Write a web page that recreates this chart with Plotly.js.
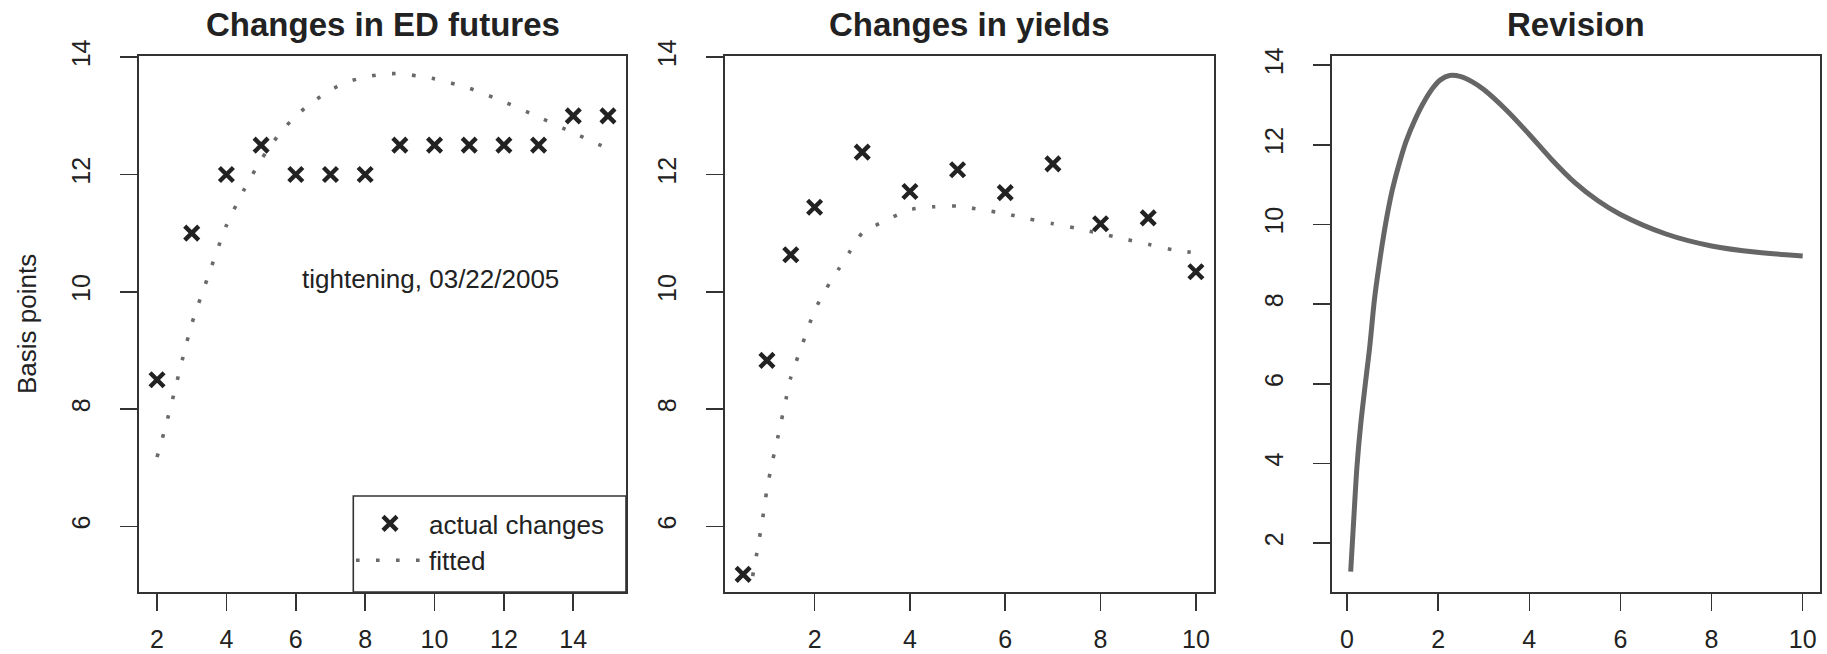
<!DOCTYPE html>
<html>
<head>
<meta charset="utf-8">
<script src="https://cdn.plot.ly/plotly-3.0.1.min.js"></script>
<style>
  html, body { margin: 0; padding: 0; background: #ffffff; }
  #chart { width: 1827px; height: 654px; }
</style>
</head>
<body>
<div id="chart"></div>
<script>
// ---------- Panel 1: Changes in ED futures ----------
const edX = [2, 3, 4, 5, 6, 7, 8, 9, 10, 11, 12, 13, 14, 15];
const edActual = [8.5, 11, 12, 12.5, 12, 12, 12, 12.5, 12.5, 12.5, 12.5, 12.5, 13, 13];
const edFitX = [2, 2.25, 2.5, 2.75, 3, 3.5, 4, 4.5, 5, 5.5, 6, 6.5, 7, 7.5, 8, 8.5, 9, 9.5, 10, 11, 12, 13, 14, 15];
const edFit = [7.18, 7.71, 8.29, 8.89, 9.45, 10.31, 11.13, 11.73, 12.25, 12.67, 13.0, 13.24, 13.44, 13.58, 13.66, 13.71, 13.72, 13.68, 13.63, 13.47, 13.24, 12.98, 12.71, 12.44];

// ---------- Panel 2: Changes in yields ----------
const ylX = [0.5, 1, 1.5, 2, 3, 4, 5, 6, 7, 8, 9, 10];
const ylActual = [5.18, 8.83, 10.63, 11.44, 12.38, 11.71, 12.08, 11.69, 12.18, 11.16, 11.26, 10.34];
const ylFitX = [0.7, 0.8, 0.9, 1.0, 1.1, 1.2, 1.3, 1.4, 1.5, 1.75, 2, 2.25, 2.5, 2.75, 3, 3.5, 4, 4.5, 5, 5.5, 6, 6.5, 7, 7.5, 8, 8.5, 9, 9.5, 10];
const ylFit = [5.15, 5.6, 6.08, 6.63, 7.05, 7.41, 7.79, 8.17, 8.54, 9.12, 9.68, 10.06, 10.38, 10.70, 11.0, 11.22, 11.40, 11.45, 11.46, 11.40, 11.33, 11.24, 11.16, 11.08, 10.99, 10.90, 10.81, 10.72, 10.66];

// ---------- Panel 3: Revision ----------
const revX = [0.08, 0.15, 0.22, 0.3, 0.41, 0.5, 0.6, 0.7, 0.8, 0.9, 1.0, 1.15, 1.3, 1.5, 1.7, 1.9, 2.05, 2.25, 2.5, 2.75, 3, 3.5, 4, 4.5, 5, 5.5, 6, 7, 8, 9, 10];
const revY = [1.28, 2.65, 3.95, 4.98, 6.08, 6.95, 8.1, 8.95, 9.7, 10.35, 10.9, 11.55, 12.1, 12.65, 13.1, 13.45, 13.63, 13.74, 13.71, 13.58, 13.39, 12.87, 12.26, 11.62, 11.05, 10.6, 10.25, 9.76, 9.46, 9.30, 9.21];

// ---------- Tick labels ----------
const edXTicks = [2, 4, 6, 8, 10, 12, 14];
const ylXTicks = [2, 4, 6, 8, 10];
const revXTicks = [0, 2, 4, 6, 8, 10];
const bpYTicks = [6, 8, 10, 12, 14];
const revYTicks = [2, 4, 6, 8, 10, 12, 14];

const titles = ["Changes in ED futures", "Changes in yields", "Revision"];
const legendNames = ["actual changes", "fitted"];
const yLabel = "Basis points";
const noteText = "tightening, 03/22/2005";

const FONT = "Liberation Sans, Arial, Helvetica, sans-serif";
const INK = "#222222";
const AX = "#333333";
const DOT = "#6a6a6a";
const W = 1827, H = 654;

const markerStyle = { symbol: "x-thin-open", size: 14, color: INK, line: { color: INK, width: 4.4 } };
const dotLine = { color: DOT, width: 3.6, dash: "3.6px,16.4px", shape: "spline", smoothing: 0.6 };

const traces = [
  { x: edX, y: edActual, xaxis: "x", yaxis: "y", type: "scatter", mode: "markers",
    name: legendNames[0], marker: markerStyle, showlegend: true },
  { x: edFitX, y: edFit, xaxis: "x", yaxis: "y", type: "scatter", mode: "lines",
    name: legendNames[1], line: dotLine, showlegend: true },
  { x: ylFitX, y: ylFit, xaxis: "x2", yaxis: "y2", type: "scatter", mode: "lines",
    line: dotLine, showlegend: false },
  { x: ylX, y: ylActual, xaxis: "x2", yaxis: "y2", type: "scatter", mode: "markers",
    marker: markerStyle, showlegend: false },
  { x: revX, y: revY, xaxis: "x3", yaxis: "y3", type: "scatter", mode: "lines",
    line: { color: "#666666", width: 5, shape: "spline", smoothing: 1 }, showlegend: false }
];

function px2fx(p) { return p / W; }
function py2fy(p) { return (H - p) / H; }

function axisBase(extra) {
  return Object.assign({
    showgrid: false, zeroline: false, showline: true, mirror: true,
    linecolor: AX, linewidth: 1.6,
    ticks: "outside", ticklen: 17, tickwidth: 1.6, tickcolor: AX,
    tickfont: { family: FONT, size: 25, color: INK },
    tickmode: "array", fixedrange: true
  }, extra);
}

const yDom = [py2fy(592), py2fy(56)];
const XSO = 7, YSO = 20;

const layout = {
  width: W, height: H,
  margin: { l: 0, r: 0, t: 0, b: 0 },
  paper_bgcolor: "#ffffff", plot_bgcolor: "#ffffff",
  font: { family: FONT, color: INK, size: 26 },
  showlegend: true,
  legend: {
    x: px2fx(351), y: py2fy(500), xanchor: "left", yanchor: "top",
    bgcolor: "rgba(0,0,0,0)", borderwidth: 0,
    font: { family: FONT, size: 26, color: INK },
    itemwidth: 68, tracegroupgap: 0
  },
  xaxis: axisBase({ domain: [px2fx(139), px2fx(626)], range: [1.48, 15.52], tickvals: edXTicks, anchor: "y", ticklabelstandoff: XSO }),
  yaxis: axisBase({ domain: yDom, range: [4.88, 14.02], tickvals: bpYTicks, anchor: "x", tickangle: -90, ticklabelstandoff: YSO }),
  xaxis2: axisBase({ domain: [px2fx(725), px2fx(1214)], range: [0.12, 10.38], tickvals: ylXTicks, anchor: "y2", ticklabelstandoff: XSO }),
  yaxis2: axisBase({ domain: yDom, range: [4.88, 14.02], tickvals: bpYTicks, anchor: "x2", tickangle: -90, ticklabelstandoff: YSO }),
  xaxis3: axisBase({ domain: [px2fx(1332), px2fx(1820)], range: [-0.33, 10.38], tickvals: revXTicks, anchor: "y3", ticklabelstandoff: XSO }),
  yaxis3: axisBase({ domain: yDom, range: [0.77, 14.23], tickvals: revYTicks, anchor: "x3", tickangle: -90, ticklabelstandoff: YSO }),
  shapes: [
    { type: "rect", xref: "paper", yref: "paper",
      x0: px2fx(353.3), x1: px2fx(626), y0: py2fy(592), y1: py2fy(496),
      line: { color: AX, width: 1.6 }, fillcolor: "rgba(0,0,0,0)" }
  ],
  annotations: [
    { xref: "paper", yref: "paper", x: px2fx(382.5), y: py2fy(25), xanchor: "center", yanchor: "middle",
      text: "<b>" + titles[0] + "</b>", showarrow: false, font: { family: FONT, size: 33, color: INK } },
    { xref: "paper", yref: "paper", x: px2fx(969.5), y: py2fy(25), xanchor: "center", yanchor: "middle",
      text: "<b>" + titles[1] + "</b>", showarrow: false, font: { family: FONT, size: 33, color: INK } },
    { xref: "paper", yref: "paper", x: px2fx(1576), y: py2fy(25), xanchor: "center", yanchor: "middle",
      text: "<b>" + titles[2] + "</b>", showarrow: false, font: { family: FONT, size: 33, color: INK } },
    { xref: "paper", yref: "paper", x: px2fx(27), y: py2fy(324), xanchor: "center", yanchor: "middle",
      text: yLabel, textangle: -90, showarrow: false, font: { family: FONT, size: 26, color: INK } },
    { xref: "x", yref: "y", x: 9.87, y: 10.22, xanchor: "center", yanchor: "middle",
      text: noteText, showarrow: false, font: { family: FONT, size: 26, color: INK } }
  ]
};

Plotly.newPlot("chart", traces, layout, { displayModeBar: false, staticPlot: true });
</script>
</body>
</html>
